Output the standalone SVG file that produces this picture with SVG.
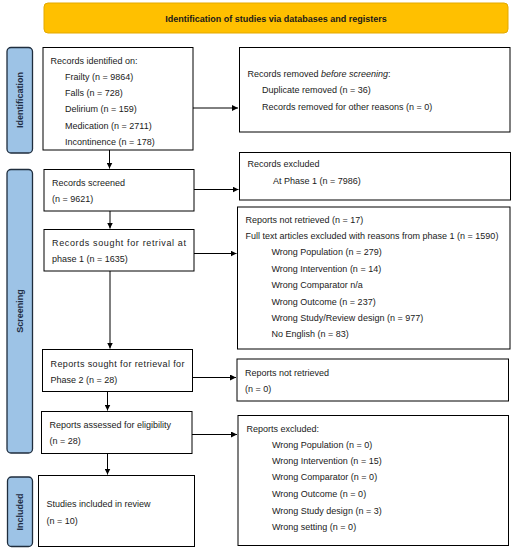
<svg xmlns="http://www.w3.org/2000/svg" width="514" height="550" viewBox="0 0 514 550">
<defs>
<marker id="ah" viewBox="0 0 10 10" refX="10" refY="5" markerWidth="6" markerHeight="6" markerUnits="userSpaceOnUse" orient="auto">
<path d="M0,0 L10,5 L0,10 z" fill="#000"/>
</marker>
</defs>
<style>
text{font-family:"Liberation Sans",Arial,sans-serif;font-size:9px;fill:#1a1a1a}
.box{fill:#fff;stroke:#000;stroke-width:1}
.side{fill:#9DC3E6;stroke:#1F2D3D;stroke-width:1.3}
.sidet{font-weight:bold;fill:#1F2D44;text-anchor:middle}
.ban{fill:#FFC000;stroke:#E3A900;stroke-width:1}
.bant{font-weight:bold;text-anchor:middle}
.con line{stroke:#000;stroke-width:1;marker-end:url(#ah)}
</style>
<rect width="514" height="550" fill="#fff"/>

<g id="banner">
<rect class="ban" x="44" y="3" width="464" height="30" rx="4"/>
<text class="bant" x="276" y="21.5">Identification of studies via databases and registers</text>
</g>

<g id="lbl-identification">
<rect class="side" x="7" y="47.5" width="25.5" height="105.5" rx="4"/>
<text class="sidet" transform="translate(23,100) rotate(-90)">Identification</text>
</g>
<g id="lbl-screening">
<rect class="side" x="7" y="169.5" width="25.5" height="283.5" rx="4"/>
<text class="sidet" transform="translate(23,311) rotate(-90)">Screening</text>
</g>
<g id="lbl-included">
<rect class="side" x="7.5" y="477" width="25" height="69.5" rx="4"/>
<text class="sidet" transform="translate(23,512) rotate(-90)">Included</text>
</g>

<g id="identified">
<rect class="box" x="43" y="47.5" width="150" height="102.5"/>
<text x="50.5" y="63.5">Records identified on:</text>
<text x="65" y="79.5">Frailty (n = 9864)</text>
<text x="65" y="96">Falls (n = 728)</text>
<text x="65" y="112.3">Delirium (n = 159)</text>
<text x="65" y="129">Medication (n = 2711)</text>
<text x="65" y="145">Incontinence (n = 178)</text>
</g>

<g id="removed">
<rect class="box" x="239.5" y="47.5" width="270.5" height="84.5"/>
<text x="247.5" y="77">Records removed <tspan font-style="italic">before screening</tspan>:</text>
<text x="262" y="93.3">Duplicate removed (n = 36)</text>
<text x="262" y="110">Records removed for other reasons (n = 0)</text>
</g>

<g id="screened">
<rect class="box" x="44" y="169.5" width="150" height="41.5"/>
<text x="52" y="185.5">Records screened</text>
<text x="52" y="202">(n = 9621)</text>
</g>

<g id="excluded1">
<rect class="box" x="239.5" y="152.5" width="271" height="47.5"/>
<text x="247.5" y="167">Records excluded</text>
<text x="273" y="184">At Phase 1 (n = 7986)</text>
</g>

<g id="sought1">
<rect class="box" x="44" y="229.5" width="150" height="41.5"/>
<text x="52" y="246" textLength="134" lengthAdjust="spacing">Records sought for retrival at</text>
<text x="52" y="262.3">phase 1 (n = 1635)</text>
</g>

<g id="notretrieved1">
<rect class="box" x="237.5" y="207" width="272.5" height="142"/>
<text x="245.5" y="223">Reports not retrieved (n = 17)</text>
<text x="245.5" y="239">Full text articles excluded with reasons from phase 1 (n = 1590)</text>
<text x="271.5" y="255.3">Wrong Population (n = 279)</text>
<text x="271.5" y="272">Wrong Intervention (n = 14)</text>
<text x="271.5" y="288.3">Wrong Comparator n/a</text>
<text x="271.5" y="305">Wrong Outcome (n = 237)</text>
<text x="271.5" y="321.3">Wrong Study/Review design (n = 977)</text>
<text x="271.5" y="337.3">No English (n = 83)</text>
</g>

<g id="sought2">
<rect class="box" x="42.5" y="349.5" width="150" height="42"/>
<text x="50.5" y="366.5" textLength="134" lengthAdjust="spacing">Reports sought for retrieval for</text>
<text x="50.5" y="382.5">Phase 2 (n = 28)</text>
</g>

<g id="notretrieved2">
<rect class="box" x="237" y="359" width="271.5" height="42"/>
<text x="245" y="375.5">Reports not retrieved</text>
<text x="245" y="392">(n = 0)</text>
</g>

<g id="assessed">
<rect class="box" x="41.5" y="411.5" width="150.5" height="42"/>
<text x="49.5" y="428">Reports assessed for eligibility</text>
<text x="49.5" y="444.3">(n = 28)</text>
</g>

<g id="excluded2">
<rect class="box" x="238" y="415.5" width="270.5" height="130"/>
<text x="246.5" y="431.5">Reports excluded:</text>
<text x="272" y="447.5">Wrong Population (n = 0)</text>
<text x="272" y="464">Wrong Intervention (n = 15)</text>
<text x="272" y="480.3">Wrong Comparator (n = 0)</text>
<text x="272" y="497">Wrong Outcome (n = 0)</text>
<text x="272" y="513.5">Wrong Study design (n = 3)</text>
<text x="272" y="529.5">Wrong setting (n = 0)</text>
</g>

<g id="included">
<rect class="box" x="38.5" y="475.5" width="156" height="71"/>
<text x="46.5" y="507">Studies included in review</text>
<text x="46.5" y="523.5">(n = 10)</text>
</g>

<g id="connectors" class="con">
<line x1="193" y1="108" x2="238" y2="108"/>
<line x1="109.5" y1="150" x2="109.5" y2="168.5"/>
<line x1="194" y1="189.5" x2="238.5" y2="189.5"/>
<line x1="110" y1="211" x2="110" y2="228.5"/>
<line x1="194" y1="253.5" x2="236.5" y2="253.5"/>
<line x1="110" y1="271" x2="110" y2="348.5"/>
<line x1="192.5" y1="377.5" x2="236" y2="377.5"/>
<line x1="107.5" y1="391.5" x2="107.5" y2="410.5"/>
<line x1="192" y1="434.5" x2="237" y2="434.5"/>
<line x1="107.5" y1="453.5" x2="107.5" y2="474.5"/>
</g>
</svg>
